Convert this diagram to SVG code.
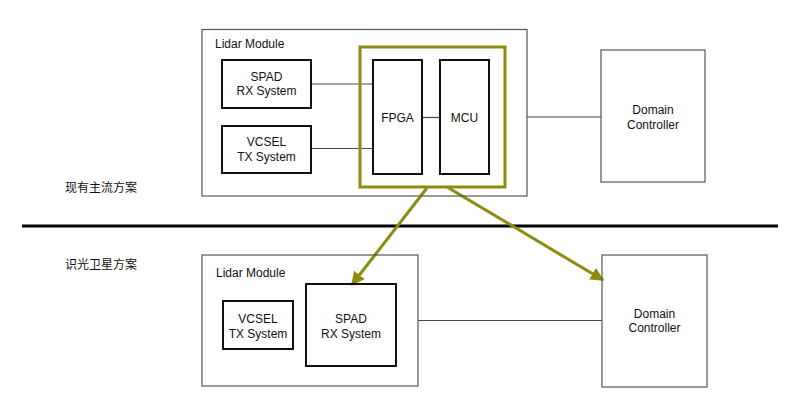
<svg xmlns="http://www.w3.org/2000/svg" width="800" height="417" viewBox="0 0 800 417">
<style>
text{font-family:"Liberation Sans",Arial,"Noto Sans CJK SC",sans-serif;font-size:12px;fill:#111}
.cjk{font-family:"Noto Sans CJK SC","Liberation Sans",sans-serif}
.mid{text-anchor:middle}
.outer{fill:none;stroke:#555;stroke-width:1.2}
.blk{fill:none;stroke:#111;stroke-width:2}
.wire{stroke:#444;stroke-width:1.2;fill:none}
.olive{stroke:#8c8c10;fill:none}
</style>
<defs>
<marker id="ah" viewBox="0 0 10 10" refX="9" refY="5" markerWidth="4.5" markerHeight="4.5" orient="auto" markerUnits="strokeWidth">
<path d="M0,0 L10,5 L0,10 Z" fill="#8c8c10"/>
</marker>
</defs>
<rect width="800" height="417" fill="#fff"/>

<g id="label-current"><text class="cjk" x="65" y="192">现有主流方案</text></g>
<g id="label-new"><text class="cjk" x="65" y="269">识光卫星方案</text></g>

<g id="connectors">
<line class="wire" x1="311" y1="84" x2="373" y2="84"/>
<line class="wire" x1="311" y1="148.5" x2="373" y2="148.5"/>
<line class="wire" x1="422" y1="117.5" x2="440" y2="117.5"/>
<line class="wire" x1="527" y1="117" x2="601" y2="117"/>
<line class="wire" x1="418" y1="320.5" x2="602" y2="320.5"/>
<line x1="22" y1="226" x2="778" y2="226" stroke="#000" stroke-width="3"/>
<line class="olive" stroke-width="3" x1="427" y1="188" x2="352" y2="284.5" marker-end="url(#ah)"/>
<line class="olive" stroke-width="3" x1="447" y1="187" x2="603" y2="280" marker-end="url(#ah)"/>
</g>

<g id="lidar-top">
<rect class="outer" x="202" y="29.5" width="325" height="166.5"/>
<text x="215" y="48">Lidar Module</text>
</g>
<g id="spad-top">
<rect class="blk" x="222" y="60" width="89" height="48"/>
<text class="mid" x="266.5" y="80.5">SPAD</text>
<text class="mid" x="266.5" y="95">RX System</text>
</g>
<g id="vcsel-top">
<rect class="blk" x="222" y="126" width="89" height="47"/>
<text class="mid" x="266.5" y="146">VCSEL</text>
<text class="mid" x="266.5" y="160.5">TX System</text>
</g>
<g id="fpga-mcu-group">
<rect class="olive" stroke-width="3" x="360" y="47" width="145" height="140"/>
</g>
<g id="fpga">
<rect class="blk" x="373" y="60" width="49" height="114"/>
<text class="mid" x="397.5" y="121.5">FPGA</text>
</g>
<g id="mcu">
<rect class="blk" x="440" y="60" width="49" height="114"/>
<text class="mid" x="464.5" y="121.5">MCU</text>
</g>
<g id="dc-top">
<rect class="outer" x="601" y="50" width="104" height="132"/>
<text class="mid" x="653" y="114">Domain</text>
<text class="mid" x="653" y="128.5">Controller</text>
</g>

<g id="lidar-bottom">
<rect class="outer" x="202" y="255" width="216" height="131"/>
<text x="216" y="277">Lidar Module</text>
</g>
<g id="vcsel-bottom">
<rect class="blk" x="223" y="301" width="70" height="48"/>
<text class="mid" x="258" y="323">VCSEL</text>
<text class="mid" x="258" y="337.5">TX System</text>
</g>
<g id="spad-bottom">
<rect class="blk" x="306" y="284" width="90" height="82"/>
<text class="mid" x="351" y="323">SPAD</text>
<text class="mid" x="351" y="337.5">RX System</text>
</g>
<g id="dc-bottom">
<rect class="outer" x="602" y="255" width="105" height="132"/>
<text class="mid" x="654.5" y="317.5">Domain</text>
<text class="mid" x="654.5" y="332">Controller</text>
</g>
</svg>
